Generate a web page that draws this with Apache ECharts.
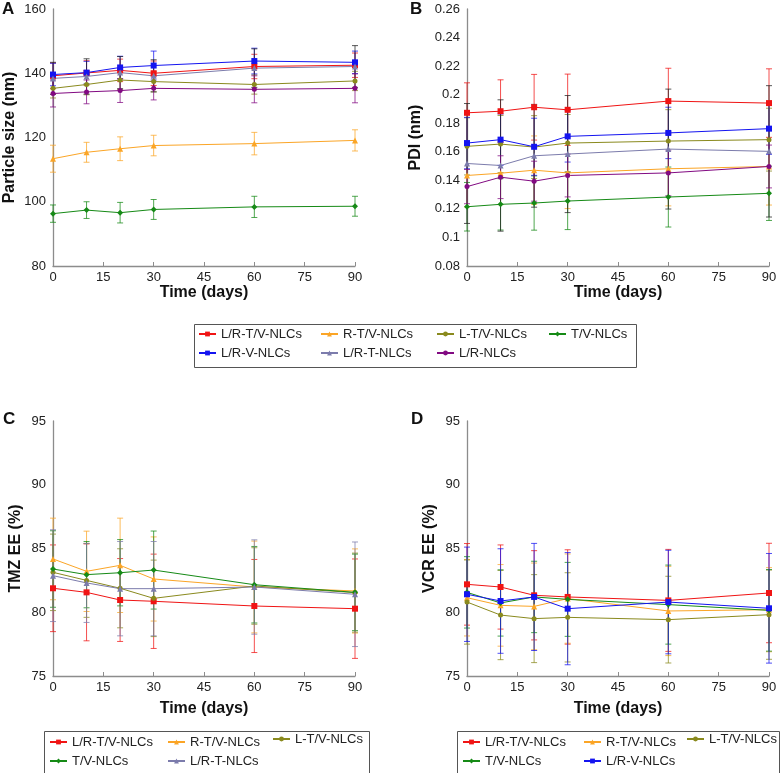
<!DOCTYPE html>
<html>
<head>
<meta charset="utf-8">
<script src="https://cdn.jsdelivr.net/npm/echarts@6/dist/echarts.min.js"></script>
<style>
html, body { margin: 0; padding: 0; background: #fff; }
#main { width: 781px; height: 773px; }
</style>
</head>
<body>
<div id="main"></div>
<script>
var days = [0, 10, 20, 30, 60, 90];

// A: particle size (nm)
var sizeMean = {
    'L/R-T/V-NLCs': [139.2, 140.1, 140.9, 140.0, 142.1, 142.5],
    'R-T/V-NLCs': [113.4, 115.4, 116.5, 117.5, 118.1, 119.1],
    'L-T/V-NLCs': [135.3, 136.5, 137.9, 137.4, 136.5, 137.6],
    'T/V-NLCs': [96.3, 97.4, 96.6, 97.6, 98.4, 98.6],
    'L/R-V-NLCs': [139.6, 140.2, 141.8, 142.4, 143.8, 143.4],
    'L/R-T-NLCs': [138.4, 139.0, 140.2, 139.2, 141.6, 142.1],
    'L/R-NLCs': [133.7, 134.2, 134.6, 135.3, 135.0, 135.3]
};
var sizeErr = {
    'L/R-T/V-NLCs': [4.0, 3.8, 3.5, 3.8, 3.8, 3.8],
    'R-T/V-NLCs': [4.2, 3.1, 3.7, 3.2, 3.5, 3.3],
    'L-T/V-NLCs': [3.0, 3.2, 3.0, 3.2, 3.0, 3.0],
    'T/V-NLCs': [2.7, 2.6, 3.2, 3.1, 3.3, 3.1],
    'L/R-V-NLCs': [3.5, 3.5, 3.5, 4.5, 4.0, 3.5],
    'L/R-T-NLCs': [5.0, 5.5, 5.0, 5.0, 6.0, 6.5],
    'L/R-NLCs': [4.2, 3.7, 3.7, 3.6, 4.2, 4.5]
};

// B: PDI
var pdiMean = {
    'L/R-T/V-NLCs': [0.1873, 0.1884, 0.1912, 0.1894, 0.1955, 0.1941],
    'R-T/V-NLCs': [0.1434, 0.145, 0.1471, 0.1452, 0.1481, 0.1497],
    'L-T/V-NLCs': [0.1638, 0.1654, 0.1633, 0.1661, 0.1675, 0.1685],
    'T/V-NLCs': [0.1215, 0.1232, 0.1241, 0.1255, 0.1283, 0.1309],
    'L/R-V-NLCs': [0.1661, 0.1685, 0.1635, 0.1708, 0.1732, 0.1762],
    'L/R-T-NLCs': [0.1518, 0.1504, 0.1572, 0.1584, 0.1619, 0.1603],
    'L/R-NLCs': [0.1356, 0.1422, 0.1394, 0.1434, 0.1452, 0.1497]
};
var pdiErr = {
    'L/R-T/V-NLCs': [0.021, 0.022, 0.023, 0.025, 0.023, 0.024],
    'R-T/V-NLCs': [0.022, 0.022, 0.024, 0.025, 0.026, 0.027],
    'L-T/V-NLCs': [0.02, 0.02, 0.022, 0.02, 0.022, 0.022],
    'T/V-NLCs': [0.017, 0.018, 0.019, 0.02, 0.021, 0.019],
    'L/R-V-NLCs': [0.018, 0.018, 0.02, 0.018, 0.018, 0.018],
    'L/R-T-NLCs': [0.042, 0.046, 0.036, 0.041, 0.042, 0.046],
    'L/R-NLCs': [0.012, 0.015, 0.014, 0.015, 0.016, 0.015]
};

// C: TMZ EE (%)
var tmzMean = {
    'L/R-T/V-NLCs': [81.88, 81.56, 80.96, 80.86, 80.49, 80.28],
    'R-T/V-NLCs': [84.18, 83.21, 83.68, 82.61, 81.98, 81.67],
    'L-T/V-NLCs': [83.13, 82.5, 81.88, 81.09, 82.06, 81.54],
    'T/V-NLCs': [83.39, 82.95, 83.1, 83.31, 82.16, 81.56],
    'L/R-T-NLCs': [82.87, 82.3, 81.85, 81.85, 81.98, 81.41]
};
var tmzErr = {
    'L/R-T/V-NLCs': [3.4, 3.8, 3.25, 3.7, 3.65, 3.9],
    'R-T/V-NLCs': [3.2, 3.15, 3.7, 3.3, 3.6, 3.3],
    'L-T/V-NLCs': [3.0, 2.9, 3.1, 3.0, 3.0, 3.1],
    'T/V-NLCs': [3.0, 2.6, 2.6, 3.06, 3.0, 3.0],
    'L/R-T-NLCs': [3.6, 3.1, 3.7, 3.7, 3.7, 4.1]
};

// D: VCR EE (%)
var vcrMean = {
    'L/R-T/V-NLCs': [82.19, 81.98, 81.33, 81.2, 80.93, 81.51],
    'R-T/V-NLCs': [81.14, 80.54, 80.46, 81.07, 80.1, 80.2],
    'L-T/V-NLCs': [80.8, 79.78, 79.5, 79.6, 79.42, 79.81],
    'T/V-NLCs': [81.56, 80.73, 81.2, 81.01, 80.6, 80.15],
    'L/R-V-NLCs': [81.41, 80.88, 81.2, 80.28, 80.8, 80.31]
};
var vcrErr = {
    'L/R-T/V-NLCs': [3.2, 3.3, 3.5, 3.7, 4.0, 3.9],
    'R-T/V-NLCs': [3.0, 3.2, 3.4, 3.5, 3.5, 3.3],
    'L-T/V-NLCs': [3.3, 3.5, 3.45, 3.5, 3.4, 3.5],
    'T/V-NLCs': [2.8, 2.6, 2.8, 2.9, 3.1, 3.2],
    'L/R-V-NLCs': [3.7, 4.1, 4.2, 4.4, 4.06, 4.3]
};

var colors = {
    'L/R-T/V-NLCs': '#f01414',
    'R-T/V-NLCs': '#fba526',
    'L-T/V-NLCs': '#8a8a1e',
    'T/V-NLCs': '#168a16',
    'L/R-V-NLCs': '#1414f0',
    'L/R-T-NLCs': '#7c7cac',
    'L/R-NLCs': '#820a82'
};
var symbols = {
    'L/R-T/V-NLCs': ['rect', 6],
    'R-T/V-NLCs': ['triangle', 6],
    'L-T/V-NLCs': ['circle', 5],
    'T/V-NLCs': ['diamond', 6],
    'L/R-V-NLCs': ['rect', 6],
    'L/R-T-NLCs': ['triangle', 6],
    'L/R-NLCs': ['circle', 5]
};

var font = "'Liberation Sans', Arial, sans-serif";
var panels = [
    {mean: sizeMean, err: sizeErr, dark: 'L/R-T-NLCs'},
    {mean: pdiMean, err: pdiErr, dark: 'L/R-T-NLCs'},
    {mean: tmzMean, err: tmzErr},
    {mean: vcrMean, err: vcrErr}
];

var lines = [], bars = [];
panels.forEach(function (p, g) {
    Object.keys(p.mean).forEach(function (name) {
        var m = p.mean[name], e = p.err[name];
        var c = colors[name];
        lines.push({
            type: 'line', name: name, xAxisIndex: g, yAxisIndex: g, z: 3,
            data: days.map(function (d, i) { return [d, m[i]]; }),
            symbol: symbols[name][0], symbolSize: symbols[name][1],
            itemStyle: {color: c}, lineStyle: {color: c, width: 1}
        });
        var ec = name === p.dark ? '#222' : c;
        bars.push({
            type: 'custom', name: name, xAxisIndex: g, yAxisIndex: g, z: 2, silent: true,
            data: days.map(function (d, i) { return [d, m[i] - e[i], m[i] + e[i]]; }),
            encode: {x: 0, y: [1, 2]},
            renderItem: function (params, api) {
                var lo = api.coord([api.value(0), api.value(1)]);
                var hi = api.coord([api.value(0), api.value(2)]);
                var w = 3;
                var st = {stroke: ec, lineWidth: 1, opacity: 0.75};
                return {type: 'group', children: [
                    {type: 'line', shape: {x1: lo[0], y1: lo[1], x2: hi[0], y2: hi[1]}, style: st},
                    {type: 'line', shape: {x1: lo[0] - w, y1: lo[1], x2: lo[0] + w, y2: lo[1]}, style: st},
                    {type: 'line', shape: {x1: hi[0] - w, y1: hi[1], x2: hi[0] + w, y2: hi[1]}, style: st}
                ]};
            }
        });
    });
});

var grids = [
    {left: 53, top: 9, width: 302, height: 257},
    {left: 467, top: 9, width: 302, height: 257},
    {left: 53, top: 421, width: 302, height: 255},
    {left: 467, top: 421, width: 302, height: 255}
];
var yNames = ['Particle size (nm)', 'PDI (nm)', 'TMZ EE (%)', 'VCR EE (%)'];
var yRanges = [[80, 160, 20], [0.08, 0.26, 0.02], [75, 95, 5], [75, 95, 5]];
var yGaps = [35, 43, 29, 29];
var xGaps = [15, 15, 25, 25];

var axisColor = '#8c8c8c';
var nameStyle = {fontFamily: font, fontWeight: 'bold', fontSize: 16, color: '#111'};
var labelStyle = {fontFamily: font, fontSize: 13, color: '#222'};

var xAxes = grids.map(function (gr, g) {
    return {
        gridIndex: g, type: 'value', min: 0, max: 90, interval: 15,
        name: 'Time (days)', nameLocation: 'middle', nameGap: xGaps[g], nameTextStyle: nameStyle,
        axisLine: {lineStyle: {color: axisColor, width: 1.3}},
        axisTick: {inside: true, length: 4, lineStyle: {color: axisColor}},
        axisLabel: Object.assign({margin: 5}, labelStyle),
        splitLine: {show: false}
    };
});
var yAxes = grids.map(function (gr, g) {
    return {
        gridIndex: g, type: 'value', min: yRanges[g][0], max: yRanges[g][1], interval: yRanges[g][2],
        name: yNames[g], nameLocation: 'middle', nameGap: yGaps[g], nameTextStyle: nameStyle,
        axisLine: {show: true, lineStyle: {color: axisColor, width: 1.3}},
        axisTick: {show: false},
        axisLabel: Object.assign({margin: 7}, labelStyle),
        splitLine: {show: false}
    };
});

function legendCol(names, left, top) {
    return {
        orient: 'vertical', left: left, top: top, padding: 0, itemGap: 5,
        itemWidth: 17, itemHeight: 6, data: names,
        textStyle: {fontFamily: font, fontSize: 13, color: '#222', lineHeight: 14}
    };
}

var legends = [
    legendCol(['L/R-T/V-NLCs', 'L/R-V-NLCs'], 198, 327),
    legendCol(['R-T/V-NLCs', 'L/R-T-NLCs'], 320, 327),
    legendCol(['L-T/V-NLCs', 'L/R-NLCs'], 436, 327),
    legendCol(['T/V-NLCs'], 548, 327),
    legendCol(['L/R-T/V-NLCs', 'T/V-NLCs'], 49, 735),
    legendCol(['R-T/V-NLCs', 'L/R-T-NLCs'], 167, 735),
    legendCol(['L-T/V-NLCs'], 272, 732),
    legendCol(['L/R-T/V-NLCs', 'T/V-NLCs'], 462, 735),
    legendCol(['R-T/V-NLCs', 'L/R-V-NLCs'], 583, 735),
    legendCol(['L-T/V-NLCs'], 686, 732)
];

function box(x, y, w, h) {
    return {type: 'rect', left: x, top: y, shape: {width: w, height: h},
        style: {fill: 'none', stroke: '#555', lineWidth: 1}, silent: true};
}
function letter(t, x, y) {
    return {type: 'text', left: x, top: y, silent: true,
        style: {text: t, fontFamily: font, fontWeight: 'bold', fontSize: 17, fill: '#111'}};
}

var chart = echarts.init(document.getElementById('main'));
chart.setOption({
    animation: false,
    backgroundColor: '#fff',
    grid: grids.map(function (g) { return Object.assign({outerBoundsMode: 'none'}, g); }),
    xAxis: xAxes,
    yAxis: yAxes,
    legend: legends,
    series: lines.concat(bars),
    graphic: [
        box(192, 322, 442, 43),
        box(42, 729, 325, 43),
        box(455, 729, 322, 43),
        letter('A', 2, 1),
        letter('B', 410, 1),
        letter('C', 3, 411),
        letter('D', 411, 411)
    ]
});
</script>
</body>
</html>
